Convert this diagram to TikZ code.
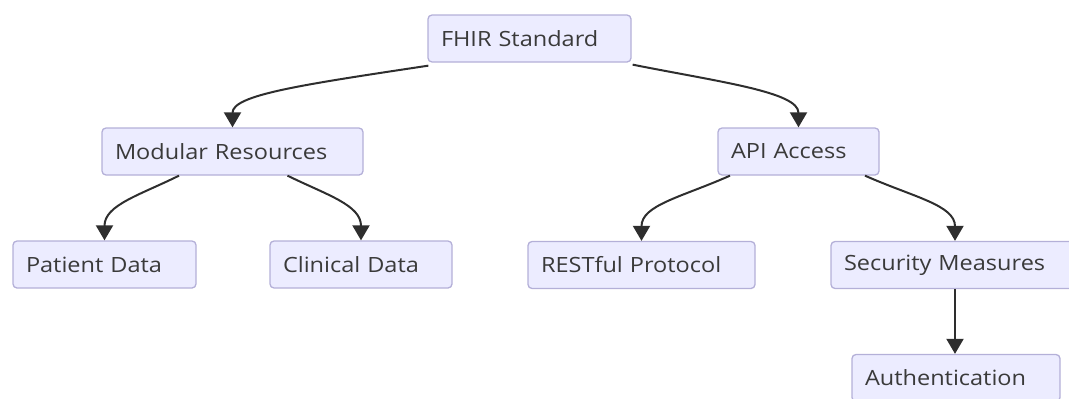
\documentclass[tikz,border=0pt]{standalone}
\usepackage{fontspec}
\setmainfont{Open Sans}[FakeStretch=1.12]
\usetikzlibrary{arrows.meta}
\definecolor{boxfill}{HTML}{ECECFF}
\definecolor{boxline}{HTML}{B4B0D8}
\definecolor{txt}{HTML}{3A3A3A}
\definecolor{edge}{HTML}{2E2E2E}
\tikzset{
  box/.style={draw=boxline, fill=boxfill, line width=1.3pt, rounded corners=4pt,
    minimum height=47pt, inner xsep=13pt, inner ysep=0pt, align=left,
    text=txt, font=\fontsize{21}{24}\selectfont, anchor=center},
  link/.style={draw=edge, line width=2pt, -{Triangle[length=15pt,width=17pt]}}
}
\begin{document}
\begin{tikzpicture}[x=1pt,y=-1pt]
\useasboundingbox (0,0) rectangle (1069,399);
\clip (0,0) rectangle (1069,399);
\node[box, text width=177pt] (fhir) at (529.5,38.5) {FHIR Standard};
\node[box, text width=235pt] (mod) at (232.5,151.5) {Modular Resources};
\node[box, text width=157pt] (pat) at (104.5,264.5) {Patient Data};
\node[box, text width=156pt] (cli) at (361,264.5) {Clinical Data};
\node[box, text width=135pt] (api) at (798.5,151.5) {API Access};
\node[box, text width=201pt] (rest) at (641.5,265) {RESTful Protocol};
\node[box, text width=222pt] (sec) at (955,265) {Security Measures};
\node[box, text width=182pt] (auth) at (956,378) {Authentication};
\draw[link] ([xshift=1pt,yshift=-3pt]fhir.south west) .. controls (300,85) and (232.5,95) .. (mod.north);
\draw[link] ([xshift=1pt,yshift=-2pt]fhir.south east) .. controls (720,82) and (798.5,92) .. (api.north);
\draw[link] ([xshift=-53.5pt]mod.south) .. controls (140,195) and (104.5,205) .. (pat.north);
\draw[link] ([xshift=55pt]mod.south) .. controls (327,195) and (361,205) .. (cli.north);
\draw[link] ([xshift=-68.5pt]api.south) .. controls (682,197) and (641.5,205) .. (rest.north);
\draw[link] ([xshift=66.5pt]api.south) .. controls (913,197) and (955,205) .. (sec.north);
\draw[link] (sec.south) -- (sec.south |- auth.north);
\end{tikzpicture}
\end{document}
